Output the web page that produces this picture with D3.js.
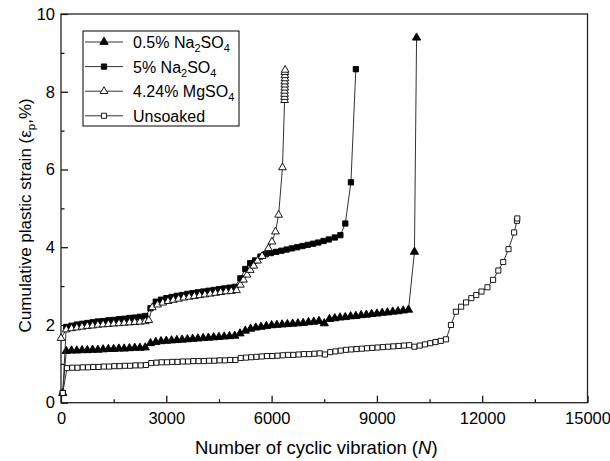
<!DOCTYPE html>
<meta charset="utf-8">
<style type="text/css">
  body { margin: 0; background: #fff; }
  text { font-family: "Liberation Sans", Arial, sans-serif; fill: #000; }
  .frame { fill: none; stroke: #222; stroke-width: 1.3; }
  .line { fill: none; stroke: #333; stroke-width: 1; }
  .axis path { display: none; }
  .axis line { stroke: #000; stroke-width: 1.2; }
  .axis text { font-size: 16.5px; }
</style>
<body>
</body>
<script src="https://d3js.org/d3.v7.min.js"></script>
<script>

// data: [cycles N, cumulative plastic strain %]
var na05 = [
  [50, 0.25], [150, 1.33], [300, 1.34], [450, 1.34], [600, 1.35], [750, 1.35], [900, 1.36],
  [1050, 1.36], [1200, 1.37], [1350, 1.38], [1500, 1.38], [1650, 1.39], [1800, 1.39], [1950, 1.40],
  [2100, 1.41], [2250, 1.41], [2400, 1.42],
  [2550, 1.53], [2700, 1.56], [2850, 1.58], [3000, 1.59], [3150, 1.60], [3300, 1.61], [3450, 1.62],
  [3600, 1.63], [3750, 1.64], [3900, 1.65], [4050, 1.66], [4200, 1.67], [4350, 1.68], [4500, 1.69],
  [4650, 1.70], [4800, 1.71], [4950, 1.72],
  [5100, 1.78], [5250, 1.85], [5400, 1.90], [5550, 1.93], [5700, 1.95], [5850, 1.97], [6000, 1.99],
  [6150, 2.00], [6300, 2.01], [6450, 2.02], [6600, 2.03], [6750, 2.04], [6900, 2.05], [7050, 2.07],
  [7200, 2.08], [7350, 2.10], [7500, 2.04],
  [7650, 2.15], [7800, 2.17], [7950, 2.19], [8100, 2.20], [8250, 2.22], [8400, 2.23], [8550, 2.25],
  [8700, 2.26], [8850, 2.28], [9000, 2.29], [9150, 2.31], [9300, 2.32], [9450, 2.34], [9600, 2.35],
  [9750, 2.37], [9900, 2.39], [10070, 3.88], [10130, 9.39]
];

var na5 = [
  [50, 0.25], [150, 1.95], [300, 1.98], [450, 2.01], [600, 2.03], [750, 2.05], [900, 2.07],
  [1050, 2.09], [1200, 2.10], [1350, 2.12], [1500, 2.13], [1650, 2.15], [1800, 2.16], [1950, 2.18],
  [2100, 2.19], [2250, 2.21], [2400, 2.23],
  [2550, 2.43], [2700, 2.60], [2850, 2.65], [3000, 2.69], [3150, 2.72], [3300, 2.75], [3450, 2.77],
  [3600, 2.80], [3750, 2.82], [3900, 2.84], [4050, 2.86], [4200, 2.88], [4350, 2.90], [4500, 2.92],
  [4650, 2.94], [4800, 2.96], [4950, 2.98],
  [5110, 3.20], [5250, 3.44], [5390, 3.59], [5530, 3.66], [5680, 3.76], [5830, 3.82], [5980, 3.85],
  [6130, 3.88], [6280, 3.91], [6430, 3.94], [6580, 3.97], [6730, 4.00], [6880, 4.03], [7030, 4.06],
  [7180, 4.09], [7330, 4.12], [7480, 4.16], [7630, 4.20], [7800, 4.25], [7960, 4.31],
  [8100, 4.61], [8260, 5.67], [8400, 8.58]
];

var mg424 = [
  [0, 1.66], [150, 1.88], [300, 1.91], [450, 1.93], [600, 1.95], [750, 1.97], [900, 1.98],
  [1050, 2.00], [1200, 2.01], [1350, 2.02], [1500, 2.03], [1650, 2.04], [1800, 2.05], [1950, 2.06],
  [2100, 2.07], [2250, 2.08], [2400, 2.09], [2500, 2.12],
  [2600, 2.45], [2750, 2.52], [2900, 2.57], [3050, 2.61], [3200, 2.64], [3350, 2.67], [3500, 2.70],
  [3650, 2.72], [3800, 2.74], [3950, 2.76], [4100, 2.78], [4250, 2.80], [4400, 2.82], [4550, 2.84],
  [4700, 2.86], [4850, 2.87], [5000, 2.89],
  [5110, 3.03], [5200, 3.16], [5300, 3.29], [5390, 3.41], [5490, 3.52], [5600, 3.65], [5730, 3.77],
  [5910, 3.97], [6010, 4.14], [6110, 4.40], [6200, 4.83], [6310, 6.05],
  [6370, 7.78], [6370, 7.86], [6370, 7.94], [6370, 8.02], [6375, 8.10], [6375, 8.18],
  [6375, 8.26], [6380, 8.34], [6380, 8.42], [6380, 8.50], [6385, 8.56]
];

var unsoaked = [
  [50, 0.25], [170, 0.89], [320, 0.90], [470, 0.90], [620, 0.91], [770, 0.91], [920, 0.92],
  [1070, 0.92], [1220, 0.93], [1370, 0.93], [1520, 0.94], [1670, 0.94], [1820, 0.95], [1970, 0.95],
  [2120, 0.96], [2270, 0.96], [2420, 0.97],
  [2570, 1.02], [2720, 1.03], [2870, 1.04], [3020, 1.04], [3170, 1.05], [3320, 1.05], [3470, 1.06],
  [3620, 1.06], [3770, 1.07], [3920, 1.07], [4070, 1.07], [4220, 1.08], [4370, 1.08], [4520, 1.09],
  [4670, 1.09], [4820, 1.10], [4970, 1.10],
  [5120, 1.15], [5270, 1.16], [5420, 1.17], [5570, 1.18], [5720, 1.19], [5870, 1.20], [6020, 1.20],
  [6170, 1.21], [6320, 1.22], [6470, 1.23], [6620, 1.23], [6770, 1.24], [6920, 1.25], [7070, 1.25],
  [7220, 1.26], [7370, 1.27], [7520, 1.24],
  [7670, 1.30], [7820, 1.32], [7970, 1.34], [8120, 1.36], [8270, 1.37], [8420, 1.38], [8570, 1.39],
  [8720, 1.40], [8870, 1.41], [9020, 1.42], [9170, 1.43], [9320, 1.44], [9470, 1.45], [9620, 1.46],
  [9770, 1.47], [9920, 1.48], [10070, 1.44],
  [10220, 1.47], [10370, 1.50], [10520, 1.53], [10670, 1.56], [10820, 1.59], [10970, 1.63],
  [11110, 2.00], [11250, 2.34], [11400, 2.47], [11540, 2.58], [11690, 2.69], [11830, 2.77],
  [11980, 2.86], [12150, 2.97], [12310, 3.16], [12460, 3.40], [12600, 3.62], [12750, 3.95],
  [12910, 4.38], [12990, 4.68], [13000, 4.74]
];

var xTicks = [0, 3000, 6000, 9000, 12000, 15000];
var yTicks = [0, 2, 4, 6, 8, 10];

// series in legend order; label parts: [text, isSubscript]
var series = [
  {data: na05, shape: d3.symbolTriangle, fill: "#000", size: 30, label: [["0.5% Na", 0], ["2", 1], ["SO", 0], ["4", 1]]},
  {data: na5, shape: d3.symbolSquare, fill: "#000", size: 28, label: [["5% Na", 0], ["2", 1], ["SO", 0], ["4", 1]]},
  {data: mg424, shape: d3.symbolTriangle, fill: "#fff", size: 26, label: [["4.24% MgSO", 0], ["4", 1]]},
  {data: unsoaked, shape: d3.symbolSquare, fill: "#fff", size: 26, label: [["Unsoaked", 0]]}
];

var margin = {top: 14, right: 22.5, bottom: 58.3, left: 61}
  , width = 610 - margin.left - margin.right
  , height = 461 - margin.top - margin.bottom;

var xScale = d3.scaleLinear().domain([0, 15000]).range([0, width]);
var yScale = d3.scaleLinear().domain([0, 10]).range([height, 0]);

var svg = d3.select("body").append("svg")
    .attr("width", 610)
    .attr("height", 461)
  .append("g")
    .attr("transform", "translate(" + margin.left + "," + margin.top + ")");

// minor ticks first, then major ticks with labels (ticks point inward)
svg.append("g")
    .attr("class", "axis")
    .attr("transform", "translate(0," + height + ")")
    .call(d3.axisBottom(xScale).tickValues(d3.range(1500, 15000, 3000)).tickSizeInner(-3.5).tickSizeOuter(0).tickFormat(""));
svg.append("g")
    .attr("class", "axis")
    .attr("transform", "translate(0," + height + ")")
    .call(d3.axisBottom(xScale).tickValues(xTicks).tickSizeInner(-7).tickSizeOuter(0).tickPadding(10).tickFormat(d3.format("d")));

svg.append("g")
    .attr("class", "axis")
    .call(d3.axisLeft(yScale).tickValues([1, 3, 5, 7, 9]).tickSizeInner(-3.5).tickSizeOuter(0).tickFormat(""));
svg.append("g")
    .attr("class", "axis")
    .call(d3.axisLeft(yScale).tickValues(yTicks).tickSizeInner(-7).tickSizeOuter(0).tickPadding(6));

svg.append("rect")
    .attr("class", "frame")
    .attr("width", width)
    .attr("height", height);

var line = d3.line()
    .x(function(d) { return xScale(d[0]); })
    .y(function(d) { return yScale(d[1]); });

series.forEach(function(s) {
  svg.append("path")
      .datum(s.data)
      .attr("class", "line")
      .attr("d", line);

  svg.append("g").selectAll("path")
      .data(s.data)
    .enter().append("path")
      .attr("transform", function(d) { return "translate(" + xScale(d[0]) + "," + yScale(d[1]) + ")"; })
      .attr("d", d3.symbol().type(s.shape).size(s.size))
      .attr("fill", s.fill)
      .attr("stroke", "#000")
      .attr("stroke-width", 0.9);
});

// legend
var legend = svg.append("g").attr("transform", "translate(22,17)");
legend.append("rect")
    .attr("width", 156)
    .attr("height", 95)
    .attr("fill", "#fff")
    .attr("stroke", "#000")
    .attr("stroke-width", 1);

series.forEach(function(s, i) {
  var row = legend.append("g").attr("transform", "translate(0," + (11 + i * 24.6) + ")");
  row.append("line")
      .attr("x1", 2).attr("x2", 40)
      .attr("stroke", "#333");
  row.append("path")
      .attr("transform", "translate(21,0)")
      .attr("d", d3.symbol().type(s.shape).size(s.size))
      .attr("fill", s.fill)
      .attr("stroke", "#000")
      .attr("stroke-width", 0.9);
  var t = row.append("text")
      .attr("x", 50)
      .attr("y", 6)
      .style("font-size", "16px");
  s.label.forEach(function(p) {
    var ts = t.append("tspan").text(p[0]);
    if (p[1]) ts.style("font-size", "11px").attr("dy", 4);
    else if (t.selectAll("tspan").size() > 1) ts.attr("dy", -4);
  });
});

// axis titles
var xt = svg.append("text")
    .attr("x", width / 2 - 8)
    .attr("y", height + 51)
    .attr("text-anchor", "middle")
    .style("font-size", "18.5px");
xt.append("tspan").text("Number of cyclic vibration (");
xt.append("tspan").style("font-style", "italic").text("N");
xt.append("tspan").text(")");

var yt = svg.append("text")
    .attr("transform", "translate(-30," + (height / 2 + 7) + ") rotate(-90)")
    .attr("text-anchor", "middle")
    .style("font-size", "17px");
yt.append("tspan").text("Cumulative plastic strain (\u03b5");
yt.append("tspan").style("font-size", "11.5px").attr("dy", 4).text("p");
yt.append("tspan").attr("dy", -4).text(",%)");

</script>
